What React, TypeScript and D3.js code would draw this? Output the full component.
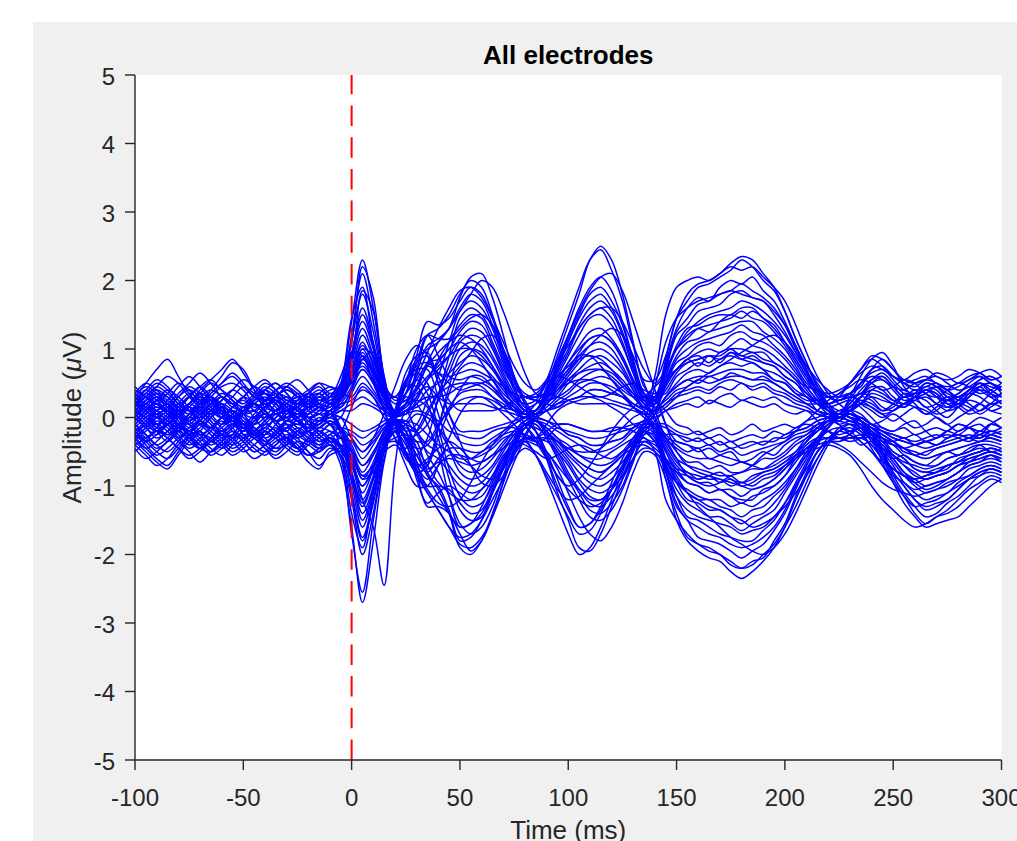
import React from 'react';
import * as d3 from 'd3';

// Sample grid (ms) shared by every electrode trace
const TIME_MS: number[] = d3.range(-100, 301, 5);
const X_TICKS = [-100, -50, 0, 50, 100, 150, 200, 250, 300];
const Y_TICKS = [-5, -4, -3, -2, -1, 0, 1, 2, 3, 4, 5];
const STIM_ONSET_MS = 0;

// Electrode traces (µV), one value per TIME_MS sample (-100..300 ms, 5 ms step)
const e01 = [0.2,0.35,0.5,0.4,0.2,0.1,0.25,0.3,0.15,0,0.1,0.3,0.4,0.2,0.1,0.15,0.3,0.35,0.25,0.5,
 1.4,2.3,1.6,0.6,0.1,0.2,0.7,1.2,1.3,
 1.5,1.8,2.0,1.9,1.5,1.0,0.55,0.35,0.3,0.55,1.0,1.45,1.9,2.3,2.45,2.15,1.7,1.05,0.55,0.55,0.9,
 1.45,1.7,1.9,1.95,2.05,2.15,2.3,2.2,2.0,1.85,1.55,1.15,0.8,0.45,0.3,0.25,0.3,0.35,0.5,0.6,0.45,0.3,0.35,0.5,0.45,0.3,0.2,0.35,0.5,0.4,0.3];
const e02 = [-0.3,-0.45,-0.6,-0.7,-0.5,-0.3,-0.2,-0.35,-0.4,-0.3,-0.15,-0.25,-0.4,-0.5,-0.35,-0.2,-0.3,-0.45,-0.4,-0.7,
 -1.6,-2.7,-1.8,-0.65,-0.1,-0.2,-0.8,-1.3,-1.3,
 -1.4,-1.7,-1.95,-1.8,-1.45,-0.95,-0.55,-0.35,-0.4,-0.5,-0.75,-1.1,-1.45,-1.7,-1.8,-1.6,-1.25,-0.8,-0.5,-0.55,-0.9,
 -1.5,-1.8,-1.95,-2.05,-2.1,-2.25,-2.35,-2.25,-2.1,-1.9,-1.6,-1.2,-0.85,-0.5,-0.35,-0.3,-0.3,-0.3,-0.4,-0.6,-0.9,-1.15,-1.4,-1.55,-1.45,-1.35,-1.2,-1.05,-0.95,-0.85,-0.9];
const e03 = [0.1,0,-0.15,-0.1,0.1,0.3,0.45,0.3,0.1,-0.05,0.05,0.2,0.1,-0.1,-0.2,0,0.15,0.2,0.05,0.3,
 1.1,1.8,1.25,0.45,-0.05,-0.5,-0.55,-0.3,0.3,
 0.9,1.45,1.6,1.5,1.2,0.8,0.4,0.15,0.1,0.4,0.75,1.15,1.5,1.8,1.9,1.7,1.35,0.8,0.35,0.3,0.7,
 1.2,1.35,1.55,1.6,1.65,1.8,1.85,1.75,1.7,1.5,1.25,0.95,0.65,0.35,0.15,0.05,0.2,0.35,0.3,0.15,0.1,0.2,0.3,0.25,0.1,0.0,0.15,0.3,0.4,0.35,0.2];
const e04 = [-0.2,-0.1,0.05,0.1,-0.05,-0.25,-0.4,-0.3,-0.1,0.05,0.15,0,-0.2,-0.3,-0.15,-0.05,-0.2,-0.35,-0.3,-0.6,
 -1.2,-2.0,-1.4,-0.5,0.05,0.45,0.45,0.2,-0.3,
 -0.9,-1.35,-1.5,-1.45,-1.1,-0.75,-0.4,-0.1,-0.1,-0.3,-0.6,-0.9,-1.2,-1.45,-1.5,-1.35,-1.05,-0.65,-0.25,-0.25,-0.7,
 -1.15,-1.45,-1.5,-1.6,-1.7,-1.75,-1.8,-1.8,-1.65,-1.5,-1.25,-0.95,-0.65,-0.35,-0.15,0.05,0.1,-0.05,-0.25,-0.5,-0.7,-0.95,-1.1,-1.2,-1.15,-1.1,-0.95,-0.85,-0.75,-0.7,-0.75];
const e05 = [0.3,0.5,0.7,0.85,0.6,0.35,0.2,0.3,0.45,0.5,0.4,0.2,0.15,0.3,0.4,0.3,0.2,0.25,0.3,0.45,
 0.9,1.5,1.05,0.4,0.1,0.35,0.9,1.4,1.35,
 1.45,1.7,1.9,1.8,1.45,0.95,0.55,0.3,0.3,0.35,0.5,0.7,0.95,1.15,1.2,1.1,0.85,0.5,0.2,0.25,0.8,
 1.3,1.6,1.75,1.7,1.9,2.0,1.95,2.05,1.85,1.7,1.4,1.05,0.7,0.4,0.3,0.25,0.35,0.45,0.7,0.85,0.7,0.5,0.4,0.45,0.5,0.4,0.3,0.4,0.55,0.6,0.5];
const e06 = [-0.4,-0.55,-0.7,-0.6,-0.4,-0.3,-0.45,-0.5,-0.35,-0.2,-0.3,-0.45,-0.55,-0.4,-0.25,-0.35,-0.5,-0.6,-0.45,-0.55,
 -0.9,-1.5,-1.05,-0.4,-0.1,-0.35,-0.9,-1.25,-1.1,
 -1.0,-1.1,-1.2,-1.15,-0.9,-0.6,-0.4,-0.3,-0.3,-0.3,-0.35,-0.5,-0.65,-0.75,-0.8,-0.7,-0.55,-0.35,-0.15,-0.15,-0.5,
 -0.8,-0.95,-1.0,-1.1,-1.05,-1.15,-1.25,-1.15,-1.1,-1.0,-0.85,-0.65,-0.45,-0.3,-0.2,-0.3,-0.3,-0.25,-0.3,-0.5,-0.8,-1.0,-1.2,-1.3,-1.25,-1.2,-1.05,-0.9,-0.8,-0.75,-0.8];
const e07 = [0,0.15,0.3,0.2,0,-0.15,-0.05,0.1,0.25,0.4,0.55,0.45,0.25,0.1,0.2,0.35,0.3,0.15,0.1,0.25,
 0.7,1.2,0.85,0.3,0.05,0.05,0.25,0.55,0.7,
 0.9,1.15,1.3,1.25,1.0,0.65,0.35,0.1,0.1,0.4,0.8,1.2,1.6,1.9,2.05,1.85,1.4,0.85,0.35,0.2,0.5,
 0.8,0.9,1.05,1.1,1.05,1.2,1.25,1.15,1.1,1.0,0.85,0.65,0.45,0.25,0.1,0.05,0.15,0.3,0.25,0.1,0.15,0.3,0.2,0.05,0.1,0.25,0.3,0.2,0.1,0.2,0.35];
const e08 = [0.1,-0.05,-0.2,-0.35,-0.2,0,0.1,-0.05,-0.25,-0.4,-0.3,-0.1,0.05,-0.1,-0.3,-0.45,-0.3,-0.15,-0.05,-0.2,
 -0.6,-1.0,-0.7,-0.25,0.05,0.45,0.65,0.5,0.05,
 -0.45,-0.8,-0.9,-0.85,-0.7,-0.45,-0.25,-0.1,-0.2,-0.6,-1.1,-1.5,-1.9,-1.95,-1.7,-1.3,-0.9,-0.5,-0.2,-0.3,-0.8,
 -1.3,-1.5,-1.75,-1.8,-1.85,-1.95,-2.05,-1.95,-1.85,-1.65,-1.4,-1.05,-0.7,-0.4,-0.15,0.0,0.05,-0.05,-0.2,-0.35,-0.5,-0.6,-0.75,-0.8,-0.75,-0.7,-0.65,-0.55,-0.5,-0.45,-0.5];
const e09 = [-0.1,0.05,0.2,0.1,-0.1,-0.2,0,0.2,0.35,0.25,0.05,-0.1,0,0.2,0.3,0.15,0,0.05,0.2,0.4,
 1.2,2.1,1.4,0.5,-0.1,-0.6,-0.7,-0.65,-0.15,
 0.35,0.7,0.8,0.75,0.6,0.4,0.2,0.05,0.1,0.3,0.6,0.9,1.2,1.45,1.5,1.35,1.05,0.65,0.25,0.25,0.6,
 1.0,1.15,1.3,1.35,1.4,1.45,1.55,1.45,1.4,1.25,1.05,0.8,0.55,0.3,0.1,-0.05,0.1,0.3,0.5,0.55,0.4,0.25,0.3,0.4,0.3,0.15,0.2,0.35,0.45,0.3,0.2];
const e10 = [0.2,0.1,-0.1,-0.25,-0.15,0.05,0.2,0.3,0.15,-0.05,-0.2,-0.1,0.1,0.25,0.15,-0.05,-0.15,-0.05,0.05,-0.25,
 -1.1,-1.8,-1.25,-0.45,0,0.3,0.2,-0.1,-0.5,
 -1.15,-1.6,-1.55,-1.3,-0.95,-0.6,-0.3,-0.1,-0.05,-0.25,-0.5,-0.7,-0.95,-1.15,-1.2,-1.05,-0.85,-0.5,-0.2,-0.1,-0.25,
 -0.4,-0.5,-0.45,-0.6,-0.55,-0.5,-0.65,-0.6,-0.5,-0.55,-0.4,-0.3,-0.25,-0.1,-0.05,0.05,0.0,-0.1,-0.25,-0.4,-0.6,-0.8,-0.9,-1.0,-0.95,-0.9,-0.8,-0.7,-0.65,-0.55,-0.6];
const e11 = [0.4,0.3,0.15,0.2,0.35,0.5,0.65,0.5,0.3,0.2,0.3,0.45,0.55,0.4,0.25,0.3,0.4,0.5,0.35,0.45,
 0.5,0.8,0.55,0.2,0.1,0.35,0.8,1.2,1.15,
 1.15,1.35,1.5,1.45,1.1,0.75,0.45,0.3,0.25,0.25,0.3,0.4,0.55,0.65,0.7,0.65,0.5,0.35,0.25,0.3,0.35,
 0.6,0.7,0.8,0.75,0.85,0.9,0.85,0.9,0.8,0.75,0.6,0.5,0.3,0.2,0.05,0.0,0.1,0.05,-0.1,-0.2,-0.25,-0.3,-0.25,-0.35,-0.3,-0.2,-0.25,-0.15,-0.1,-0.2,-0.15];
const e12 = [-0.15,-0.3,-0.45,-0.35,-0.15,0,-0.1,-0.25,-0.4,-0.55,-0.45,-0.3,-0.2,-0.3,-0.45,-0.55,-0.4,-0.3,-0.2,-0.3,
 -0.35,-0.6,-0.4,-0.15,-0.05,-0.3,-0.65,-0.8,-0.6,
 -0.45,-0.45,-0.5,-0.5,-0.35,-0.25,-0.2,-0.25,-0.3,-0.35,-0.5,-0.8,-1.05,-1.25,-1.3,-1.15,-0.9,-0.6,-0.35,-0.4,-0.6,
 -0.9,-1.1,-1.2,-1.2,-1.3,-1.35,-1.45,-1.35,-1.3,-1.15,-1.0,-0.75,-0.5,-0.3,-0.1,0.05,0.0,-0.05,-0.2,-0.3,-0.4,-0.45,-0.55,-0.5,-0.45,-0.4,-0.35,-0.3,-0.25,-0.3,-0.35];
const e13 = [0.05,0.2,0.35,0.3,0.15,0.05,0.2,0.4,0.6,0.8,0.7,0.4,0.15,0.1,0.2,0.3,0.2,0.1,0.15,0.3,
 0.6,1.0,0.7,0.35,0.3,0.25,0.4,0.8,1.1,
 1.3,1.75,2.05,2.1,1.75,1.2,0.6,0.2,0.05,0.2,0.4,0.6,0.8,0.95,1.0,0.9,0.7,0.4,0.2,0.1,0.2,
 0.35,0.4,0.45,0.4,0.5,0.55,0.5,0.45,0.5,0.4,0.35,0.25,0.2,0.2,0.2,0.25,0.3,0.25,0.15,0.05,0.1,0.2,0.25,0.15,0.05,0.1,0.2,0.15,0.05,0.15,0.25];
const e14 = [-0.35,-0.5,-0.65,-0.75,-0.55,-0.35,-0.25,-0.3,-0.45,-0.35,-0.2,-0.15,-0.3,-0.45,-0.4,-0.25,-0.2,-0.3,-0.4,-0.5,
 -0.7,-1.2,-0.85,-0.4,-0.3,-0.25,-0.35,-0.8,-1.05,
 -1.4,-1.9,-2.0,-1.8,-1.4,-0.95,-0.5,-0.15,-0.05,-0.1,-0.2,-0.3,-0.4,-0.5,-0.5,-0.45,-0.35,-0.2,-0.1,-0.1,-0.35,
 -0.6,-0.7,-0.75,-0.8,-0.85,-0.85,-0.95,-0.85,-0.8,-0.75,-0.65,-0.5,-0.3,-0.2,-0.05,0.0,-0.05,-0.1,-0.2,-0.35,-0.55,-0.7,-0.8,-0.9,-0.85,-0.8,-0.7,-0.65,-0.55,-0.5,-0.55];
const e15 = [0.25,0.1,0,0.1,0.3,0.4,0.3,0.15,0.05,0.15,0.3,0.45,0.35,0.2,0.1,0.2,0.35,0.45,0.3,0.35,
 0.3,0.5,0.35,0.15,0.1,0.5,1.0,1.2,0.9,
 0.6,0.55,0.6,0.55,0.45,0.3,0.15,0.05,0.1,0.35,0.7,1.0,1.35,1.6,1.7,1.55,1.2,0.7,0.3,0.3,0.75,
 1.25,1.45,1.65,1.7,1.8,1.85,1.95,1.85,1.75,1.6,1.35,1.0,0.7,0.4,0.15,0.05,0.3,0.6,0.85,0.95,0.75,0.45,0.3,0.35,0.45,0.4,0.25,0.3,0.45,0.5,0.4];
const e16 = [0,-0.15,-0.3,-0.2,0,0.15,0.05,-0.1,-0.25,-0.15,0.05,0.2,0.1,-0.05,-0.2,-0.3,-0.15,0,-0.1,-0.3,
 -0.6,-1.2,-1.6,-2.45,-0.7,0.1,-0.2,-0.4,-0.5,
 -0.7,-0.9,-1.0,-0.95,-0.75,-0.5,-0.25,-0.1,0.0,-0.05,-0.15,-0.2,-0.25,-0.3,-0.3,-0.25,-0.2,-0.15,-0.05,-0.2,-0.65,
 -1.05,-1.25,-1.35,-1.45,-1.45,-1.55,-1.65,-1.55,-1.45,-1.35,-1.1,-0.85,-0.6,-0.3,-0.15,0.0,0.05,-0.05,-0.2,-0.45,-0.65,-0.85,-1.0,-1.1,-1.05,-1.0,-0.9,-0.75,-0.7,-0.65,-0.7];
const e17 = [0.35,0.2,0.1,0.25,0.45,0.6,0.45,0.25,0.1,0,0.1,0.25,0.4,0.5,0.35,0.15,0.05,0.15,0.3,0.5,
 0.95,1.6,1.1,0.4,-0.05,-0.3,-0.25,-0.1,0.25,
 0.65,1.0,1.1,1.05,0.85,0.55,0.3,0.1,0.05,0.1,0.15,0.25,0.3,0.4,0.4,0.35,0.3,0.15,0.05,0.1,0.3,
 0.5,0.65,0.7,0.65,0.75,0.8,0.75,0.8,0.7,0.65,0.55,0.4,0.3,0.2,0.15,0.2,0.25,0.15,0.0,-0.15,-0.2,-0.1,-0.05,-0.2,-0.3,-0.2,-0.1,-0.15,-0.25,-0.1,0.0];
const e18 = [-0.25,-0.1,0.05,-0.05,-0.25,-0.4,-0.3,-0.15,0,0.1,-0.05,-0.2,-0.35,-0.25,-0.05,0.05,-0.1,-0.25,-0.35,-0.3,
 -0.25,-0.4,-0.3,-0.1,0.05,0.35,0.55,0.35,-0.15,
 -0.75,-1.15,-1.3,-1.25,-1.0,-0.65,-0.35,-0.1,-0.2,-0.5,-0.9,-1.3,-1.6,-1.55,-1.3,-0.95,-0.6,-0.3,-0.1,-0.1,-0.15,
 -0.25,-0.35,-0.3,-0.4,-0.35,-0.45,-0.4,-0.35,-0.4,-0.3,-0.3,-0.2,-0.15,-0.05,0.0,0.05,0.0,-0.05,-0.15,-0.25,-0.35,-0.45,-0.55,-0.6,-0.55,-0.5,-0.45,-0.4,-0.35,-0.3,-0.35];
const e19 = [-0.05,0.1,0.25,0.15,-0.05,-0.2,-0.1,0.05,0.2,0.1,-0.1,-0.25,-0.15,0,0.15,0.25,0.1,-0.05,0,0.1,
 0.2,0.3,0.2,0.1,-0.05,-0.3,-0.45,-0.4,-0.15,
 0.15,0.35,0.4,0.4,0.3,0.2,0.1,0.05,0.05,0.2,0.35,0.55,0.7,0.85,0.9,0.8,0.65,0.4,0.15,0.2,0.55,
 0.9,1.1,1.15,1.25,1.3,1.35,1.4,1.4,1.25,1.15,1.0,0.75,0.5,0.35,0.2,0.25,0.3,0.35,0.55,0.65,0.5,0.35,0.3,0.4,0.35,0.2,0.15,0.3,0.45,0.5,0.35];
const e20 = [-0.5,-0.35,-0.2,-0.3,-0.45,-0.6,-0.5,-0.35,-0.25,-0.35,-0.5,-0.4,-0.25,-0.15,-0.3,-0.45,-0.65,-0.75,-0.5,-0.45,
 -0.55,-0.9,-0.65,-0.25,-0.05,-0.2,-0.55,-0.75,-0.65,
 -0.6,-0.65,-0.7,-0.65,-0.55,-0.35,-0.2,-0.05,-0.05,-0.2,-0.35,-0.55,-0.7,-0.85,-0.9,-0.8,-0.65,-0.4,-0.15,-0.25,-0.9,
 -1.4,-1.75,-1.85,-1.95,-2.0,-2.15,-2.2,-2.1,-2.05,-1.8,-1.55,-1.15,-0.8,-0.5,-0.35,-0.35,-0.3,-0.3,-0.3,-0.55,-0.85,-1.1,-1.3,-1.45,-1.4,-1.25,-1.15,-1.0,-0.85,-0.8,-0.85];
const e21 = [0.15,0.3,0.45,0.6,0.5,0.3,0.15,0.05,0.15,0.3,0.45,0.35,0.2,0.05,0,0.1,0.25,0.35,0.2,0.35,
 0.8,1.3,0.9,0.35,0.05,0.2,0.65,1.05,1.15,
 1.3,1.6,1.8,1.7,1.35,0.9,0.5,0.3,0.25,0.1,-0.1,-0.25,-0.3,-0.4,-0.4,-0.35,-0.3,-0.15,-0.05,0.0,0.1,
 0.2,0.25,0.3,0.2,0.3,0.35,0.25,0.3,0.25,0.3,0.2,0.15,0.1,0.05,0.0,-0.05,0.05,0.0,-0.1,-0.2,-0.3,-0.35,-0.4,-0.35,-0.4,-0.3,-0.25,-0.3,-0.2,-0.25,-0.3];
const e22 = [0.3,0.15,0,-0.1,0.05,0.2,0.35,0.25,0.05,-0.1,-0.2,-0.05,0.15,0.3,0.2,0,-0.15,-0.05,0.1,-0.15,
 -0.95,-1.6,-1.1,-0.4,0.1,0.55,0.7,0.7,0.3,
 -0.1,-0.35,-0.4,-0.4,-0.3,-0.2,-0.1,0.0,0.05,0.1,0.2,0.3,0.4,0.5,0.5,0.45,0.35,0.2,0.1,-0.05,-0.4,
 -0.65,-0.8,-0.85,-0.9,-0.9,-1.0,-0.95,-1.0,-0.9,-0.85,-0.7,-0.55,-0.35,-0.2,-0.1,0.05,0.0,-0.05,-0.15,-0.3,-0.4,-0.55,-0.65,-0.7,-0.7,-0.6,-0.55,-0.5,-0.4,-0.4,-0.45];
const e23 = [-0.3,-0.15,0,0.15,0.05,-0.1,-0.25,-0.15,0,0.1,0,-0.15,-0.3,-0.2,-0.05,0.05,-0.05,-0.2,-0.1,0,
 0.35,0.6,0.4,0.15,-0.1,-0.5,-0.8,-0.7,-0.15,
 0.45,0.9,1.0,0.95,0.75,0.5,0.25,0.1,0.05,0.25,0.5,0.8,1.05,1.25,1.3,1.15,0.9,0.55,0.25,0.15,0.25,
 0.4,0.45,0.55,0.5,0.55,0.6,0.6,0.55,0.55,0.5,0.4,0.3,0.2,0.1,0.05,0.05,0.25,0.5,0.7,0.75,0.6,0.5,0.55,0.6,0.5,0.45,0.5,0.6,0.65,0.55,0.6];
const e24 = [-0.1,-0.25,-0.4,-0.3,-0.15,-0.25,-0.4,-0.55,-0.45,-0.3,-0.15,-0.25,-0.4,-0.3,-0.15,-0.1,-0.2,-0.35,-0.25,-0.15,
 -0.2,-0.3,-0.2,-0.1,-0.05,-0.1,-0.2,-0.55,-0.8,
 -1.15,-1.55,-1.7,-1.6,-1.3,-0.85,-0.45,-0.15,-0.05,-0.15,-0.3,-0.4,-0.55,-0.65,-0.7,-0.65,-0.5,-0.3,-0.15,-0.15,-0.5,
 -0.75,-0.95,-1.0,-1.1,-1.05,-1.15,-1.2,-1.2,-1.05,-1.0,-0.85,-0.6,-0.45,-0.35,-0.3,-0.3,-0.35,-0.3,-0.2,-0.45,-0.6,-0.8,-0.95,-1.05,-1.0,-0.9,-0.8,-0.65,-0.6,-0.55,-0.6];
const e25 = [0.45,0.3,0.2,0.35,0.5,0.4,0.25,0.35,0.5,0.65,0.5,0.3,0.2,0.3,0.45,0.55,0.4,0.25,0.3,0.6,
 1.1,2.2,1.75,0.55,0.05,0.05,0.45,0.8,0.85,
 1.0,1.25,1.4,1.35,1.05,0.7,0.45,0.3,0.3,0.35,0.3,0.25,0.2,0.2,0.2,0.2,0.15,0.1,0.05,0.1,0.45,
 0.7,0.85,0.95,1.0,0.95,1.05,1.15,1.05,1.0,0.9,0.75,0.6,0.4,0.2,0.1,0.0,0.1,0.25,0.2,0.1,0.2,0.35,0.3,0.15,0.2,0.3,0.2,0.1,0.2,0.35,0.45];
const e26 = [-0.05,0.1,0.2,0.05,-0.15,-0.3,-0.2,0,0.15,0.05,-0.15,-0.3,-0.2,0,0.1,0,-0.15,-0.1,0.05,-0.15,
 -0.8,-1.3,-0.9,-0.35,0.1,0.65,0.9,0.95,0.5,
 0.05,-0.2,-0.2,-0.2,-0.15,-0.1,-0.05,0.0,-0.05,-0.2,-0.4,-0.6,-0.8,-0.95,-1.0,-0.9,-0.7,-0.4,-0.2,-0.1,-0.1,
 -0.2,-0.25,-0.2,-0.3,-0.25,-0.35,-0.3,-0.25,-0.3,-0.2,-0.25,-0.15,-0.1,-0.15,-0.2,-0.25,-0.2,-0.15,-0.1,-0.2,-0.25,-0.3,-0.35,-0.3,-0.25,-0.3,-0.2,-0.15,-0.2,-0.1,-0.15];
const e27 = [0.2,0.05,-0.1,0,0.2,0.35,0.25,0.1,0,0.15,0.3,0.2,0.05,-0.05,0.1,0.25,0.35,0.2,0.05,0.1,
 0.1,0.2,0.15,0.05,0,0.1,0.2,0.4,0.5,
 0.65,0.8,0.9,0.85,0.7,0.45,0.25,0.1,0.1,0.45,0.9,1.35,1.8,2.3,2.5,2.3,1.8,1.1,0.45,0.3,0.65,
 1.05,1.3,1.35,1.45,1.5,1.5,1.6,1.6,1.45,1.35,1.1,0.85,0.6,0.3,0.15,0.0,0.1,0.2,0.4,0.45,0.3,0.2,0.3,0.45,0.4,0.25,0.3,0.4,0.5,0.35,0.3];
const e28 = [-0.2,-0.35,-0.5,-0.6,-0.45,-0.25,-0.1,-0.2,-0.35,-0.5,-0.4,-0.25,-0.15,-0.25,-0.4,-0.5,-0.35,-0.2,-0.3,-0.4,
 -0.5,-0.8,-0.55,-0.2,-0.05,-0.05,-0.25,-0.5,-0.6,
 -0.8,-1.0,-1.1,-1.05,-0.85,-0.55,-0.4,-0.3,-0.3,-0.1,0.1,0.2,0.25,0.3,0.3,0.25,0.2,0.15,0.05,-0.15,-0.75,
 -1.25,-1.5,-1.6,-1.7,-1.75,-1.85,-1.9,-1.85,-1.75,-1.6,-1.35,-1.0,-0.7,-0.4,-0.15,0.0,-0.05,-0.1,-0.3,-0.65,-0.95,-1.25,-1.45,-1.6,-1.55,-1.5,-1.45,-1.3,-1.15,-1.0,-0.9];
const e29 = [0.1,0.25,0.4,0.3,0.1,-0.05,0.05,0.2,0.3,0.2,0.05,0,0.15,0.3,0.4,0.3,0.15,0.05,0.1,0.3,
 0.65,1.1,0.75,0.3,-0.05,-0.3,-0.35,-0.35,-0.1,
 0.1,0.25,0.3,0.3,0.25,0.15,0.1,0.0,0.05,0.1,0.25,0.35,0.5,0.55,0.6,0.55,0.4,0.3,0.3,0.25,-0.1,
 -0.35,-0.4,-0.45,-0.4,-0.5,-0.45,-0.55,-0.5,-0.45,-0.4,-0.35,-0.25,-0.2,-0.1,-0.05,0.0,0.05,-0.05,-0.15,-0.25,-0.35,-0.45,-0.5,-0.55,-0.45,-0.4,-0.35,-0.3,-0.3,-0.25,-0.3];
const e30 = [-0.15,0,0.1,0,-0.2,-0.35,-0.45,-0.3,-0.15,-0.05,-0.15,-0.3,-0.45,-0.55,-0.4,-0.2,-0.1,-0.2,-0.35,-0.6,
 -1.7,-2.55,-1.5,-0.6,-0.05,-0.1,-0.65,-1.0,-1.0,
 -1.05,-1.25,-1.4,-1.35,-1.05,-0.7,-0.35,-0.1,-0.1,-0.3,-0.55,-0.85,-1.1,-1.35,-1.4,-1.25,-1.0,-0.6,-0.25,-0.15,-0.3,
 -0.5,-0.65,-0.65,-0.75,-0.7,-0.8,-0.8,-0.75,-0.75,-0.65,-0.55,-0.4,-0.3,-0.15,-0.05,0.0,0.05,-0.05,-0.15,-0.3,-0.5,-0.6,-0.75,-0.8,-0.8,-0.7,-0.65,-0.55,-0.5,-0.45,-0.5];
const e31 = [0.3,0.45,0.35,0.2,0.1,0.2,0.35,0.5,0.4,0.25,0.15,0.25,0.4,0.3,0.15,0.05,0.2,0.35,0.45,0.4,
 0.55,0.9,0.65,0.25,0.05,0.2,0.55,0.75,0.65,
 0.6,0.65,0.7,0.65,0.55,0.35,0.2,0.05,-0.05,-0.15,-0.3,-0.5,-0.65,-0.75,-0.8,-0.7,-0.55,-0.35,-0.1,0.2,0.85,
 1.45,1.8,1.95,2.0,2.1,2.25,2.35,2.3,2.1,1.9,1.55,1.15,0.8,0.45,0.2,0.05,0.2,0.4,0.55,0.6,0.45,0.3,0.35,0.5,0.45,0.3,0.35,0.5,0.6,0.5,0.4];
const e32 = [-0.3,-0.15,-0.05,-0.15,-0.3,-0.2,-0.05,0.1,0,-0.15,-0.3,-0.2,-0.05,0.05,-0.1,-0.25,-0.35,-0.25,-0.1,-0.15,
 -0.3,-0.5,-0.35,-0.15,0.05,0.2,0.25,0.15,-0.15,
 -0.45,-0.7,-0.8,-0.75,-0.6,-0.4,-0.2,-0.05,0.05,0.2,0.45,0.65,0.9,1.05,1.1,1.0,0.75,0.45,0.2,0.0,-0.3,
 -0.45,-0.55,-0.6,-0.6,-0.65,-0.7,-0.65,-0.7,-0.6,-0.6,-0.5,-0.35,-0.25,-0.15,-0.05,0.0,0.05,-0.05,-0.15,-0.25,-0.35,-0.5,-0.55,-0.6,-0.55,-0.5,-0.45,-0.4,-0.35,-0.35,-0.4];
const e33 = [0.05,-0.1,-0.2,-0.05,0.15,0.3,0.2,0.05,-0.1,0,0.15,0.3,0.45,0.35,0.2,0.1,0,0.1,0.25,0.3,
 0.85,1.4,1.0,0.35,0,-0.2,-0.1,0.25,0.6,
 1.1,1.55,1.7,1.6,1.3,0.85,0.45,0.15,0.1,0.3,0.65,0.95,1.3,1.5,1.6,1.45,1.1,0.65,0.35,0.25,0.1,
 -0.1,-0.15,-0.25,-0.2,-0.15,-0.25,-0.2,-0.1,-0.2,-0.15,-0.1,-0.15,-0.05,0.0,0.05,0.0,0.1,0.2,0.15,0.05,-0.05,0.05,0.15,0.1,0.0,-0.1,0.0,0.1,0.2,0.1,0.05];
const e34 = [-0.45,-0.6,-0.5,-0.35,-0.2,-0.3,-0.45,-0.35,-0.2,-0.1,-0.25,-0.4,-0.5,-0.4,-0.3,-0.45,-0.55,-0.45,-0.3,-0.45,
 -0.65,-1.1,-0.75,-0.3,-0.1,-0.3,-0.7,-0.9,-0.7,
 -0.55,-0.55,-0.6,-0.55,-0.45,-0.3,-0.25,-0.3,-0.35,-0.3,-0.15,-0.25,-0.3,-0.4,-0.4,-0.35,-0.3,-0.15,-0.1,-0.15,-0.6,
 -0.95,-1.2,-1.25,-1.35,-1.35,-1.45,-1.55,-1.45,-1.4,-1.25,-1.05,-0.8,-0.55,-0.3,-0.1,0.0,-0.05,-0.1,-0.25,-0.5,-0.8,-1.0,-1.2,-1.35,-1.3,-1.2,-1.05,-0.9,-0.8,-0.75,-0.8];
const e35 = [0.15,0,-0.1,0.05,0.2,0.1,-0.05,-0.15,0,0.15,0.25,0.1,0,0.1,0.25,0.15,0,-0.05,0.1,0.2,
 0.25,0.4,0.3,0.1,0.05,0.15,0.35,0.45,0.3,
 0.2,0.2,0.2,0.2,0.15,0.1,0.05,0.0,0.05,0.15,0.3,0.5,0.65,0.75,0.8,0.7,0.55,0.35,0.15,0.1,0.3,
 0.45,0.55,0.6,0.6,0.65,0.7,0.7,0.65,0.65,0.55,0.5,0.35,0.25,0.25,0.3,0.3,0.35,0.2,0.1,0.0,0.1,0.2,0.15,0.05,0.15,0.25,0.15,0.05,0.1,0.2,0.15];
const e36 = [0.05,0.2,0.3,0.15,0,-0.1,0.05,0.2,0.1,-0.05,-0.15,0,0.15,0.25,0.1,-0.05,0.05,0.15,0.05,0,
 -0.1,-0.2,-0.15,-0.05,0,0.05,0.1,0.05,-0.05,
 -0.2,-0.25,-0.3,-0.3,-0.2,-0.15,-0.15,-0.25,-0.3,-0.2,-0.1,-0.1,-0.15,-0.2,-0.2,-0.15,-0.15,-0.2,-0.3,-0.35,-0.25,
 -0.25,-0.3,-0.35,-0.3,-0.4,-0.35,-0.45,-0.4,-0.35,-0.35,-0.25,-0.2,-0.15,-0.05,0.0,0.05,0.0,-0.05,-0.15,-0.2,-0.3,-0.35,-0.4,-0.45,-0.4,-0.35,-0.3,-0.25,-0.3,-0.2,-0.25];
const e37 = [0.25,0.4,0.55,0.45,0.25,0.1,0,0.1,0.25,0.4,0.3,0.15,0.25,0.4,0.5,0.4,0.25,0.15,0.2,0.45,
 0.8,1.85,1.55,0.6,0.0,-0.05,0.2,0.3,0.3,
 0.35,0.45,0.5,0.5,0.4,0.25,0.15,0.05,0.1,0.35,0.7,1.1,1.45,1.7,1.8,1.6,1.25,0.75,0.3,0.2,0.4,
 0.65,0.8,0.85,0.9,0.9,1.0,1.0,0.95,0.95,0.8,0.7,0.55,0.35,0.2,0.1,0.0,0.15,0.3,0.45,0.4,0.25,0.2,0.3,0.4,0.35,0.2,0.25,0.4,0.5,0.4,0.3];
const e38 = [-0.3,-0.15,0,-0.1,-0.3,-0.45,-0.35,-0.2,-0.05,-0.2,-0.35,-0.5,-0.4,-0.2,-0.05,-0.15,-0.3,-0.4,-0.25,-0.45,
 -0.85,-1.4,-1.0,-0.35,-0.05,-0.1,-0.45,-0.85,-1.0,
 -1.35,-1.8,-1.75,-1.5,-1.1,-0.7,-0.35,-0.1,-0.05,-0.2,-0.45,-0.65,-0.9,-1.05,-1.1,-1.0,-0.75,-0.45,-0.2,-0.05,0.1,
 0.15,0.2,0.15,0.25,0.2,0.15,0.25,0.2,0.15,0.2,0.1,0.05,0.1,-0.05,-0.2,-0.3,-0.25,-0.15,-0.25,-0.4,-0.55,-0.7,-0.85,-0.9,-0.85,-0.8,-0.7,-0.6,-0.55,-0.5,-0.55];
const e39 = [0,0.15,0.05,-0.1,-0.2,-0.05,0.1,0.25,0.15,0,-0.1,0.05,0.2,0.1,-0.05,0,0.15,0.3,0.2,0.15,
 0.4,0.7,0.5,0.2,0,-0.15,-0.2,0.05,0.35,
 0.75,1.1,1.2,1.15,0.9,0.6,0.3,0.1,0.0,-0.05,-0.1,-0.1,-0.15,-0.2,-0.2,-0.2,-0.15,-0.1,-0.05,0.1,0.5,
 0.85,1.0,1.1,1.15,1.2,1.25,1.35,1.25,1.2,1.05,0.9,0.7,0.45,0.25,0.1,0.0,0.05,0.0,-0.1,-0.05,0.05,-0.05,-0.15,-0.1,0.0,-0.1,-0.2,-0.1,0.0,-0.05,-0.15];
const e40 = [-0.2,-0.05,0.1,0.2,0.05,-0.1,-0.25,-0.15,0,0.1,0,-0.15,-0.25,-0.1,0.05,0.15,0,-0.15,-0.05,-0.15,
 -0.4,-0.7,-0.5,-0.2,0.1,0.5,0.8,0.9,0.6,
 0.25,0.1,0.1,0.1,0.1,0.15,0.25,0.3,0.25,0.2,0.15,0.25,0.3,0.4,0.4,0.35,0.3,0.15,0.05,-0.1,-0.45,
 -0.7,-0.85,-0.95,-0.95,-1.05,-1.05,-1.15,-1.05,-1.0,-0.9,-0.75,-0.6,-0.4,-0.3,-0.3,-0.3,-0.25,0.0,-0.1,-0.15,-0.2,-0.15,-0.25,-0.2,-0.15,-0.2,-0.1,-0.15,-0.2,-0.1,-0.15];
const e41 = [0.1,0.2,0.1,-0.05,-0.15,0,0.15,0.3,0.2,0.05,-0.1,-0.2,-0.05,0.1,0.2,0.1,-0.05,-0.1,0.05,0.15,
 0.4,0.9,0.6,0.1,-0.3,-0.45,-0.2,0.1,0.35,
 0.55,0.75,0.95,1.15,1.2,1.0,0.6,0.2,-0.2,-0.55,-0.85,-1.0,-0.9,-0.7,-0.45,-0.2,0.0,0.15,0.3,0.45,0.6,
 0.7,0.85,0.75,0.9,0.8,0.95,0.85,0.8,0.7,0.55,0.5,0.35,0.3,0.1,0.05,-0.1,-0.25,-0.4,-0.35,-0.5,-0.6,-0.55,-0.65,-0.7,-0.6,-0.5,-0.55,-0.45,-0.4,-0.5,-0.45];
const e42 = [-0.2,-0.3,-0.15,0,0.1,-0.05,-0.2,-0.35,-0.25,-0.1,0.05,0.1,-0.05,-0.2,-0.3,-0.2,-0.05,0.05,-0.1,-0.2,
 -0.5,-0.9,-0.8,-0.4,-0.2,-0.4,-0.75,-1.05,-1.25,
 -1.3,-1.2,-0.95,-0.65,-0.4,-0.2,-0.05,0.1,0.2,0.3,0.45,0.65,0.85,1.05,1.2,1.3,1.2,0.9,0.5,0.1,-0.3,
 -0.6,-0.85,-0.95,-1.0,-0.95,-0.85,-0.8,-0.7,-0.55,-0.45,-0.35,-0.2,-0.05,0.1,0.25,0.35,0.45,0.55,0.5,0.4,0.45,0.55,0.5,0.35,0.3,0.4,0.5,0.45,0.35,0.4,0.5];
const e43 = [0.3,0.15,0.05,0.15,0.3,0.45,0.35,0.15,0,-0.05,0.1,0.25,0.35,0.2,0.05,0.15,0.3,0.2,0.05,0.2,
 0.45,0.85,0.95,0.5,-0.1,-0.55,-0.8,-0.7,-0.3,
 0.1,0.4,0.6,0.6,0.45,0.25,0.1,0.05,0.2,0.4,0.6,0.75,0.9,0.9,0.75,0.55,0.35,0.15,0.0,-0.15,-0.3,
 -0.35,-0.4,-0.5,-0.45,-0.55,-0.6,-0.65,-0.7,-0.75,-0.7,-0.6,-0.5,-0.35,-0.2,-0.05,0.05,0.0,-0.15,-0.35,-0.55,-0.75,-0.85,-0.9,-0.85,-0.8,-0.75,-0.6,-0.55,-0.5,-0.45,-0.5];
const e44 = [-0.1,-0.25,-0.4,-0.5,-0.35,-0.15,-0.05,-0.15,-0.3,-0.45,-0.35,-0.2,-0.1,-0.2,-0.35,-0.45,-0.3,-0.15,-0.2,-0.3,
 -0.5,-0.85,-0.8,-0.45,-0.2,-0.1,0.05,0,-0.15,
 -0.35,-0.55,-0.7,-0.85,-0.9,-0.75,-0.5,-0.3,-0.35,-0.5,-0.7,-0.9,-1.05,-1.2,-1.2,-1.05,-0.85,-0.6,-0.45,-0.5,-0.75,
 -0.95,-1.1,-1.2,-1.3,-1.35,-1.45,-1.5,-1.6,-1.55,-1.45,-1.3,-1.1,-0.85,-0.6,-0.35,-0.2,-0.15,-0.25,-0.4,-0.6,-0.75,-0.85,-0.95,-0.9,-0.85,-0.8,-0.7,-0.65,-0.6,-0.55,-0.65];
const e45 = [0.2,0.3,0.45,0.35,0.2,0.1,0.2,0.35,0.5,0.6,0.45,0.3,0.25,0.35,0.3,0.2,0.3,0.4,0.3,0.35,
 0.5,0.7,0.5,0.2,0.05,0.1,0.3,0.55,0.85,
 1.1,1.3,1.45,1.5,1.35,1.0,0.6,0.25,0.0,-0.2,-0.35,-0.45,-0.5,-0.5,-0.45,-0.3,-0.15,0.0,0.1,0.6,1.5,
 1.9,2.0,2.05,2.0,2.1,2.2,2.15,2.2,2.05,1.9,1.7,1.35,0.95,0.6,0.35,0.2,0.1,0.2,0.35,0.3,0.2,0.15,0.3,0.4,0.3,0.25,0.35,0.45,0.4,0.3,0.35];
const e46 = [-0.25,-0.4,-0.55,-0.45,-0.3,-0.2,-0.3,-0.45,-0.55,-0.4,-0.25,-0.3,-0.45,-0.6,-0.5,-0.35,-0.4,-0.5,-0.4,-0.55,
 -1.1,-1.75,-1.2,-0.45,-0.15,-0.3,-0.55,-0.85,-1.15,
 -1.4,-1.6,-1.55,-1.4,-1.1,-0.75,-0.4,-0.15,-0.3,-0.6,-1.0,-1.35,-1.6,-1.55,-1.35,-1.05,-0.75,-0.45,-0.3,-0.5,-1.2,
 -1.5,-1.7,-1.85,-1.9,-2.0,-2.1,-2.2,-2.15,-2.0,-1.85,-1.6,-1.3,-0.95,-0.6,-0.35,-0.15,-0.1,-0.2,-0.45,-0.7,-0.95,-1.15,-1.3,-1.25,-1.2,-1.1,-1.0,-0.9,-0.85,-0.75,-0.8];
const e47 = [-0.05,0.1,0.25,0.4,0.3,0.15,0.05,0.15,0.3,0.2,0.05,0.1,0.25,0.4,0.45,0.3,0.15,0.2,0.35,0.3,
 0.55,1.0,0.9,0.5,0.25,0.35,0.6,0.95,1.3,
 1.6,1.85,1.9,1.75,1.45,1.1,0.75,0.5,0.4,0.55,0.8,1.05,1.3,1.5,1.6,1.6,1.4,1.05,0.7,0.5,0.7,
 1.0,1.25,1.4,1.5,1.55,1.6,1.7,1.65,1.55,1.4,1.2,0.95,0.75,0.55,0.4,0.3,0.35,0.5,0.65,0.7,0.6,0.5,0.45,0.55,0.6,0.5,0.4,0.45,0.55,0.6,0.5];
const e48 = [-0.35,-0.2,-0.1,-0.2,-0.35,-0.5,-0.65,-0.5,-0.35,-0.25,-0.35,-0.5,-0.4,-0.25,-0.15,-0.3,-0.5,-0.7,-0.55,-0.5,
 -0.7,-1.0,-0.75,-0.4,-0.35,-0.5,-0.8,-1.1,-1.35,
 -1.6,-1.75,-1.7,-1.5,-1.2,-0.9,-0.6,-0.45,-0.55,-0.8,-1.05,-1.2,-1.15,-1.0,-0.85,-0.7,-0.55,-0.45,-0.4,-0.5,-0.65,
 -0.8,-0.85,-0.9,-0.85,-0.95,-0.9,-1.0,-0.95,-0.85,-0.8,-0.7,-0.6,-0.5,-0.45,-0.4,-0.45,-0.55,-0.75,-1.0,-1.2,-1.35,-1.5,-1.6,-1.55,-1.45,-1.4,-1.3,-1.15,-1.0,-0.9,-0.95];
const e49 = [0.35,0.5,0.4,0.25,0.15,0.3,0.45,0.55,0.4,0.3,0.2,0.35,0.5,0.4,0.25,0.2,0.35,0.5,0.45,0.4,
 0.6,0.95,0.7,0.45,0.3,0.5,0.75,0.8,0.65,
 0.5,0.4,0.45,0.5,0.55,0.45,0.35,0.3,0.35,0.5,0.6,0.55,0.45,0.35,0.3,0.35,0.45,0.5,0.4,0.35,0.5,
 0.7,0.85,0.9,0.8,0.95,1.0,0.9,0.95,0.85,0.8,0.7,0.55,0.45,0.4,0.35,0.4,0.5,0.65,0.75,0.7,0.6,0.55,0.65,0.7,0.6,0.55,0.6,0.7,0.65,0.55,0.6];
const e50 = [-0.4,-0.3,-0.2,-0.3,-0.45,-0.55,-0.45,-0.3,-0.2,-0.3,-0.45,-0.6,-0.5,-0.35,-0.3,-0.4,-0.55,-0.5,-0.35,-0.45,
 -0.6,-0.85,-0.7,-0.5,-0.4,-0.55,-0.7,-0.6,-0.45,
 -0.35,-0.45,-0.6,-0.65,-0.55,-0.45,-0.35,-0.4,-0.5,-0.6,-0.55,-0.45,-0.4,-0.45,-0.55,-0.6,-0.5,-0.4,-0.35,-0.45,-0.6,
 -0.75,-0.8,-0.9,-0.85,-0.8,-0.9,-0.95,-0.9,-0.8,-0.75,-0.65,-0.55,-0.45,-0.4,-0.35,-0.4,-0.5,-0.65,-0.8,-0.95,-1.05,-1.1,-1.15,-1.1,-1.05,-0.95,-0.9,-0.85,-0.75,-0.7,-0.75];
const e51 = [0,-0.15,-0.25,-0.1,0.05,0.2,0.1,-0.05,-0.2,-0.1,0.05,0.2,0.3,0.15,0,-0.1,0.05,0.15,0.05,0,
 -0.3,-0.5,-0.3,0.05,0.45,0.85,1.05,0.9,0.5,
 0.05,-0.35,-0.7,-0.95,-1.0,-0.85,-0.55,-0.25,0.0,0.2,0.4,0.55,0.65,0.7,0.7,0.6,0.45,0.3,0.15,0.05,0.15,
 0.3,0.45,0.55,0.65,0.75,0.85,0.95,1.05,1.15,1.2,1.1,0.9,0.65,0.4,0.2,0.1,0.15,0.3,0.4,0.35,0.25,0.3,0.4,0.35,0.2,0.15,0.25,0.35,0.3,0.2,0.25];
const e52 = [0.15,0.3,0.2,0.05,-0.1,0,0.15,0.25,0.1,-0.05,-0.15,0,0.15,0.25,0.15,0,0.1,0.2,0.15,0.35,
 0.95,0.9,0.5,0.1,-0.3,-0.7,-1.0,-1.0,-0.7,
 -0.3,0.05,0.25,0.3,0.2,0.05,-0.1,-0.3,-0.55,-0.85,-1.15,-1.45,-1.7,-1.65,-1.4,-1.05,-0.7,-0.4,-0.15,0.05,0.2,
 0.3,0.35,0.4,0.35,0.45,0.4,0.5,0.4,0.45,0.35,0.3,0.2,0.15,0.05,0.0,-0.05,-0.1,-0.2,-0.3,-0.35,-0.4,-0.45,-0.4,-0.35,-0.4,-0.3,-0.25,-0.3,-0.35,-0.25,-0.2];
const e53 = [-0.1,0.05,0.15,0.05,-0.1,-0.25,-0.15,0,0.1,0,-0.15,-0.25,-0.1,0.05,0.1,-0.05,-0.2,-0.1,0,-0.15,
 -0.45,-0.7,-0.55,-0.2,0.05,0.15,0.3,0.55,0.8,
 1.0,1.1,1.0,0.8,0.55,0.3,0.1,0.0,0.0,0.1,0.2,0.25,0.3,0.3,0.25,0.15,0.05,-0.1,-0.2,-0.35,-0.6,
 -0.85,-1.1,-1.3,-1.45,-1.6,-1.75,-1.85,-1.95,-2.0,-1.9,-1.7,-1.4,-1.05,-0.7,-0.4,-0.2,-0.1,-0.15,-0.3,-0.45,-0.55,-0.65,-0.7,-0.75,-0.7,-0.6,-0.55,-0.5,-0.45,-0.5,-0.55];
const e54 = [0.05,-0.1,-0.2,-0.1,0.05,0.2,0.3,0.2,0.05,-0.05,0.1,0.2,0.1,-0.05,0,0.15,0.25,0.15,0.1,0.45,
 1.45,1.9,1.05,0.3,-0.05,-0.05,-0.1,-0.25,-0.4,
 -0.5,-0.6,-0.6,-0.5,-0.4,-0.25,-0.1,0.0,0.1,0.3,0.55,0.8,1.0,1.15,1.2,1.1,0.85,0.55,0.25,0.2,0.5,
 0.7,0.8,0.85,0.9,0.85,0.95,0.9,0.85,0.8,0.75,0.6,0.5,0.35,0.25,0.2,0.3,0.5,0.7,0.85,0.75,0.55,0.4,0.35,0.4,0.45,0.35,0.3,0.4,0.5,0.45,0.4];
const e55 = [0.1,0,-0.15,-0.25,-0.1,0.05,0.15,0,-0.15,-0.3,-0.2,-0.05,0.05,-0.05,-0.2,-0.3,-0.2,-0.05,-0.1,-0.45,
 -1.4,-1.9,-1.1,-0.35,0,0.1,0.15,0.25,0.35,
 0.45,0.5,0.5,0.45,0.3,0.15,0.0,-0.1,-0.15,-0.25,-0.35,-0.45,-0.55,-0.6,-0.6,-0.5,-0.4,-0.3,-0.2,-0.35,-0.7,
 -0.95,-1.05,-1.15,-1.2,-1.2,-1.3,-1.25,-1.3,-1.2,-1.1,-0.95,-0.75,-0.55,-0.35,-0.2,-0.15,-0.2,-0.35,-0.5,-0.7,-0.85,-0.95,-1.05,-1.0,-0.95,-0.9,-0.8,-0.7,-0.65,-0.6,-0.65];
const e56 = [0.2,0.35,0.25,0.1,0,0.15,0.3,0.4,0.3,0.15,0.1,0.25,0.4,0.5,0.35,0.2,0.15,0.25,0.2,0.3,
 0.55,0.75,0.55,0.3,0.3,0.55,0.85,1.0,1.1,
 1.3,1.55,1.8,2.0,1.9,1.55,1.1,0.65,0.35,0.3,0.4,0.5,0.55,0.55,0.5,0.4,0.3,0.2,0.15,0.3,0.7,
 1.0,1.2,1.3,1.25,1.4,1.5,1.45,1.55,1.45,1.3,1.1,0.85,0.6,0.4,0.3,0.35,0.5,0.7,0.9,0.85,0.7,0.55,0.5,0.55,0.65,0.6,0.5,0.55,0.65,0.7,0.6];
const e57 = [-0.2,-0.35,-0.25,-0.1,0,-0.1,-0.25,-0.4,-0.3,-0.15,-0.05,-0.2,-0.35,-0.25,-0.1,-0.2,-0.35,-0.45,-0.3,-0.4,
 -0.8,-1.25,-0.9,-0.4,-0.2,-0.25,-0.45,-0.7,-0.95,
 -1.1,-1.2,-1.2,-1.05,-0.85,-0.6,-0.4,-0.35,-0.55,-0.9,-1.3,-1.7,-2.0,-1.9,-1.6,-1.2,-0.8,-0.45,-0.15,0.05,0.3,
 0.45,0.55,0.5,0.6,0.55,0.65,0.6,0.55,0.6,0.5,0.4,0.3,0.2,0.1,0.0,-0.1,-0.05,-0.15,-0.25,-0.3,-0.35,-0.3,-0.4,-0.35,-0.3,-0.25,-0.3,-0.35,-0.25,-0.2,-0.25];
const e58 = [0.1,0.25,0.35,0.2,0.05,-0.05,0.1,0.25,0.15,0,0.1,0.25,0.35,0.25,0.1,0.05,0.2,0.3,0.2,0.25,
 0.55,0.85,0.65,0.3,0.1,0.2,0.4,0.6,0.75,
 0.9,1.0,1.0,0.9,0.7,0.5,0.3,0.2,0.25,0.5,0.85,1.2,1.55,1.85,2.05,2.1,1.85,1.4,0.9,0.4,-0.1,
 -0.5,-0.7,-0.8,-0.85,-0.9,-0.95,-1.0,-1.05,-1.0,-0.9,-0.75,-0.55,-0.35,-0.15,0.0,0.1,0.15,0.2,0.3,0.25,0.2,0.15,0.25,0.3,0.2,0.1,0.15,0.25,0.2,0.1,0.15];
const e59 = [-0.3,-0.45,-0.35,-0.2,-0.1,-0.2,-0.35,-0.5,-0.4,-0.25,-0.1,-0.2,-0.35,-0.45,-0.3,-0.15,-0.25,-0.4,-0.3,-0.2,
 0.15,0.45,0.3,0,-0.2,-0.5,-0.85,-1.1,-1.35,
 -1.6,-1.85,-1.9,-1.75,-1.45,-1.05,-0.65,-0.3,0.0,0.25,0.5,0.7,0.85,0.9,0.85,0.7,0.5,0.3,0.1,-0.25,-0.8,
 -1.15,-1.35,-1.45,-1.5,-1.55,-1.6,-1.7,-1.65,-1.6,-1.45,-1.25,-1.0,-0.75,-0.5,-0.3,-0.2,-0.25,-0.35,-0.5,-0.65,-0.75,-0.85,-0.9,-0.85,-0.8,-0.7,-0.65,-0.6,-0.55,-0.5,-0.55];
const e60 = [0.25,0.4,0.3,0.15,0.05,0.2,0.4,0.55,0.7,0.85,0.65,0.4,0.25,0.3,0.45,0.35,0.2,0.3,0.4,0.45,
 0.7,1.05,0.8,0.4,0.2,0.25,0.45,0.75,0.95,
 1.1,1.2,1.15,1.0,0.75,0.45,0.15,-0.1,-0.35,-0.6,-0.85,-1.05,-1.2,-1.3,-1.25,-1.05,-0.75,-0.4,-0.05,0.45,1.1,
 1.45,1.6,1.7,1.75,1.8,1.85,1.8,1.75,1.7,1.55,1.35,1.05,0.75,0.5,0.3,0.25,0.35,0.5,0.6,0.55,0.45,0.4,0.5,0.55,0.5,0.4,0.45,0.55,0.6,0.5,0.45];

const ELECTRODES: number[][] = [
  e01, e02, e03, e04, e05, e06, e07, e08, e09, e10,
  e11, e12, e13, e14, e15, e16, e17, e18, e19, e20,
  e21, e22, e23, e24, e25, e26, e27, e28, e29, e30,
  e31, e32, e33, e34, e35, e36, e37, e38, e39, e40,
  e41, e42, e43, e44, e45, e46, e47, e48, e49, e50,
  e51, e52, e53, e54, e55, e56, e57, e58, e59, e60,
];

const FONT = '"Liberation Sans", Arial, Helvetica, sans-serif';

export default function App() {
  const W = 1017;
  const H = 841;
  const plot = { left: 135, right: 1001.5, top: 75, bottom: 760 };

  const x = d3.scaleLinear().domain([-100, 300]).range([plot.left, plot.right]);
  const y = d3.scaleLinear().domain([-5, 5]).range([plot.bottom, plot.top]);

  const line = d3
    .line<number>()
    .x((_, i) => x(TIME_MS[i]))
    .y((d) => y(d))
    .curve(d3.curveCatmullRom.alpha(0.5));

  const axisColor = '#262626';
  const tickLen = 10;

  return (
    <svg
      width={W}
      height={H}
      style={{ position: 'absolute', left: 0, top: 0, display: 'block' }}
      fontFamily={FONT}
    >
      <rect x={0} y={0} width={W} height={H} fill="#ffffff" />
      <rect x={33} y={22} width={W - 33} height={H - 22} fill="#f0f0f0" />
      <rect
        x={plot.left}
        y={plot.top}
        width={plot.right - plot.left}
        height={plot.bottom - plot.top}
        fill="#ffffff"
      />

      <defs>
        <clipPath id="plotclip">
          <rect x={plot.left} y={plot.top - 2} width={plot.right - plot.left + 2} height={plot.bottom - plot.top + 4} />
        </clipPath>
      </defs>

      <g clipPath="url(#plotclip)">
        {ELECTRODES.map((vals, k) => (
          <path
            key={k}
            d={line(vals.slice(0, TIME_MS.length)) || ''}
            fill="none"
            stroke="#0000ff"
            strokeWidth={1.5}
            strokeLinejoin="round"
          />
        ))}
      </g>

      {/* stimulus onset */}
      <line
        x1={x(STIM_ONSET_MS)}
        x2={x(STIM_ONSET_MS)}
        y1={y(-5)}
        y2={y(5)}
        stroke="#ff0000"
        strokeWidth={2}
        strokeDasharray="20.5,11.2"
      />

      {/* axes */}
      <line x1={plot.left} x2={plot.right} y1={plot.bottom} y2={plot.bottom} stroke={axisColor} strokeWidth={1.4} />
      <line x1={plot.left} x2={plot.left} y1={plot.top} y2={plot.bottom} stroke={axisColor} strokeWidth={1.4} />

      {X_TICKS.map((t) => (
        <g key={'xt' + t}>
          <line x1={x(t)} x2={x(t)} y1={plot.bottom} y2={plot.bottom + tickLen} stroke={axisColor} strokeWidth={1.4} />
          <text x={x(t)} y={806} textAnchor="middle" fontSize={24} fill="#262626">
            {t}
          </text>
        </g>
      ))}
      {Y_TICKS.map((v) => (
        <g key={'yt' + v}>
          <line x1={plot.left - tickLen} x2={plot.left} y1={y(v)} y2={y(v)} stroke={axisColor} strokeWidth={1.4} />
          <text x={115} y={y(v) + 9.5} textAnchor="end" fontSize={24} fill="#262626">
            {v}
          </text>
        </g>
      ))}

      <text x={(plot.left + plot.right) / 2} y={64} textAnchor="middle" fontSize={26} fontWeight="bold" fill="#000">
        All electrodes
      </text>
      <text x={(plot.left + plot.right) / 2} y={839} textAnchor="middle" fontSize={26} fill="#262626">
        Time (ms)
      </text>
      <text
        transform={`translate(80.5, ${(plot.top + plot.bottom) / 2}) rotate(-90)`}
        textAnchor="middle"
        fontSize={26}
        fill="#262626"
      >
        Amplitude (<tspan fontStyle="italic">μ</tspan>V)
      </text>
    </svg>
  );
}
